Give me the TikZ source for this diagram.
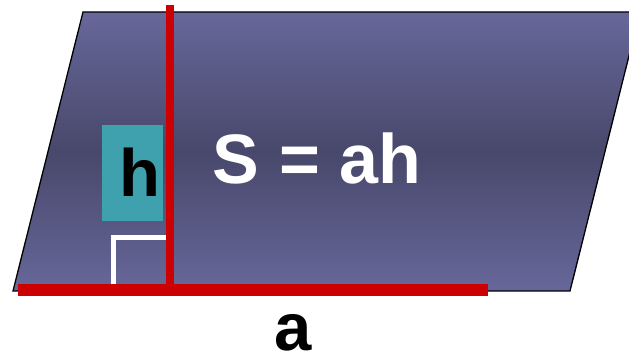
\documentclass[tikz,border=0pt]{standalone}
\usepackage{fontspec}
\setmainfont{Liberation Sans}
\definecolor{pgtop}{HTML}{67679A}
\definecolor{pgmid}{HTML}{48486C}
\definecolor{tealc}{HTML}{3FA1AE}
\definecolor{redc}{HTML}{CC0000}
\tikzset{
  bigtext/.style={font=\bfseries\fontsize{67}{67}\selectfont, inner sep=0pt},
  redline/.style={draw=redc},
}
\begin{document}
\begin{tikzpicture}[x=1pt,y=-1pt]
\useasboundingbox (0,0) rectangle (629,355);
\begin{scope}
\clip (0,0) rectangle (629,355);
\path[top color=pgtop, bottom color=pgtop, middle color=pgmid, draw=black, line width=1.3pt]
  (13,291) -- (83,12) -- (640,12) -- (570,291) -- cycle;
\end{scope}
\node[fill=tealc, minimum width=61pt, minimum height=96pt, inner sep=0pt] (hbox) at (132.5,173) {};
\node[bigtext, text=black] (h) at (140,172) {h};
\node[bigtext, font=\bfseries\fontsize{70}{70}\selectfont, text=white] (S) at (317,158) {S = ah};
\node[bigtext, text=black] (a) at (293,333) {a};
\coordinate (ra1) at (113,285);
\coordinate (ra2) at (113,238);
\coordinate (ra3) at (167,238);
\draw[white, line width=5pt] (ra1) -- (ra2) -- (ra3);
\coordinate (vt) at (170,5);
\coordinate (vb) at (170,290);
\coordinate (hl) at (18,290);
\coordinate (hr) at (488,290);
\draw[redline, line width=8pt] (vt) -- (vb);
\draw[redline, line width=12pt] (hl) -- (hr);
\end{tikzpicture}
\end{document}
